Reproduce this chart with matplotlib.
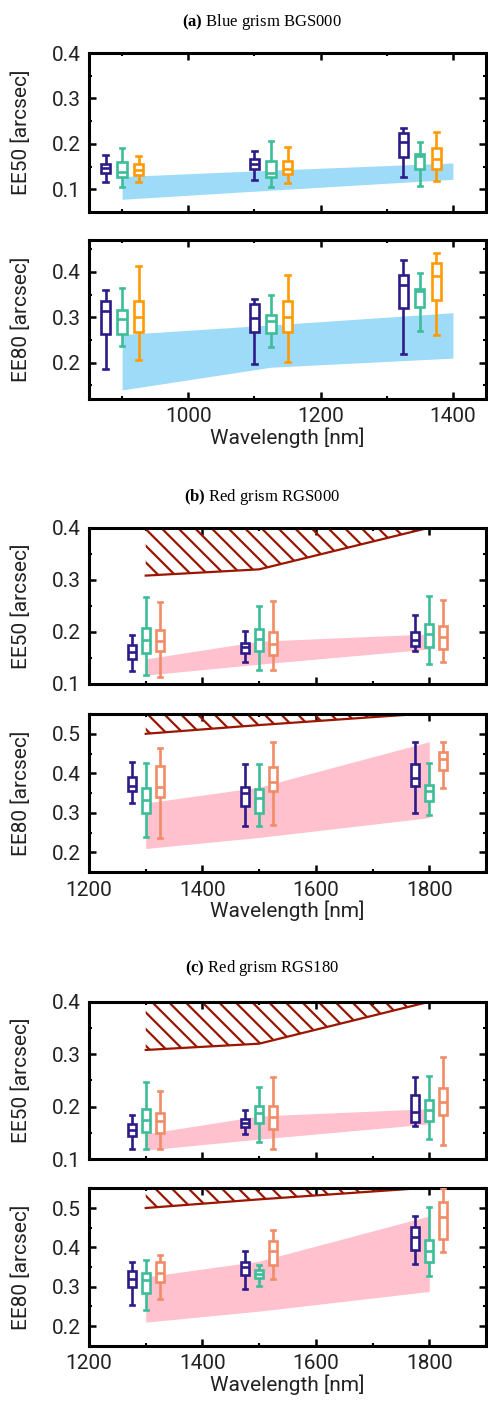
import matplotlib
matplotlib.use('Agg')
import matplotlib.pyplot as plt
from matplotlib.ticker import MultipleLocator

plt.rcParams['font.family'] = ['Roboto', 'DejaVu Sans']
plt.rcParams['mathtext.fontset'] = 'custom'
plt.rcParams['mathtext.rm'] = 'Liberation Serif'
plt.rcParams['mathtext.bf'] = 'Liberation Serif:bold'
plt.rcParams['hatch.linewidth'] = 1.6

PURPLE = '#2d1b88'
TEAL = '#3dbd98'
ORANGE = '#ff9a05'
SALMON = '#f08c66'
SKY = '#9ddbf9'
PINK = '#ffc1cd'
DARKRED = '#9a1600'
INK = '#222222'

# --- data: (whislo, q1, median, q3, whishi) per wavelength group ----------
# (a) Blue grism BGS000
A_POS = [[875, 1100, 1325], [900, 1125, 1350], [925, 1150, 1375]]
A50_PURPLE = [(0.116, 0.135, 0.147, 0.156, 0.176), (0.120, 0.144, 0.156, 0.167, 0.185), (0.126, 0.170, 0.204, 0.224, 0.236)]
A50_TEAL = [(0.105, 0.127, 0.137, 0.161, 0.190), (0.105, 0.126, 0.135, 0.163, 0.206), (0.107, 0.144, 0.174, 0.178, 0.205)]
A50_ORANGE = [(0.115, 0.132, 0.143, 0.156, 0.173), (0.113, 0.133, 0.144, 0.163, 0.193), (0.119, 0.144, 0.167, 0.191, 0.227)]
A80_PURPLE = [(0.187, 0.264, 0.313, 0.335, 0.359), (0.196, 0.268, 0.298, 0.330, 0.340), (0.220, 0.321, 0.372, 0.392, 0.427)]
A80_TEAL = [(0.237, 0.264, 0.296, 0.316, 0.364), (0.235, 0.266, 0.291, 0.305, 0.350), (0.270, 0.322, 0.357, 0.363, 0.398)]
A80_ORANGE = [(0.205, 0.268, 0.300, 0.335, 0.413), (0.201, 0.268, 0.300, 0.335, 0.394), (0.262, 0.337, 0.390, 0.419, 0.441)]
A_BAND_X = [900, 1125, 1400]
A50_BAND_LO = [0.078, 0.098, 0.122]
A50_BAND_HI = [0.128, 0.142, 0.158]
A80_BAND_LO = [0.140, 0.190, 0.210]
A80_BAND_HI = [0.262, 0.283, 0.310]

# (b) Red grism RGS000
B_POS = [[1275, 1475, 1775], [1300, 1500, 1800], [1325, 1525, 1825]]
B50_PURPLE = [(0.125, 0.147, 0.162, 0.174, 0.194), (0.142, 0.160, 0.171, 0.179, 0.202), (0.163, 0.173, 0.185, 0.200, 0.233)]
B50_TEAL = [(0.118, 0.160, 0.185, 0.208, 0.266), (0.127, 0.163, 0.187, 0.206, 0.249), (0.139, 0.171, 0.195, 0.215, 0.268)]
B50_SALMON = [(0.114, 0.163, 0.182, 0.204, 0.257), (0.127, 0.155, 0.176, 0.200, 0.260), (0.142, 0.168, 0.190, 0.212, 0.262)]
B80_PURPLE = [(0.324, 0.356, 0.368, 0.391, 0.429), (0.268, 0.317, 0.350, 0.365, 0.424), (0.300, 0.368, 0.388, 0.424, 0.480)]
B80_TEAL = [(0.240, 0.300, 0.332, 0.362, 0.425), (0.266, 0.300, 0.337, 0.360, 0.424), (0.294, 0.331, 0.356, 0.371, 0.426)]
B80_SALMON = [(0.237, 0.339, 0.365, 0.418, 0.465), (0.270, 0.356, 0.379, 0.416, 0.480), (0.362, 0.409, 0.435, 0.455, 0.480)]

# (c) Red grism RGS180
C50_PURPLE = [(0.120, 0.144, 0.156, 0.167, 0.184), (0.148, 0.162, 0.169, 0.176, 0.193), (0.163, 0.171, 0.189, 0.222, 0.257)]
C50_TEAL = [(0.120, 0.152, 0.174, 0.195, 0.247), (0.132, 0.168, 0.187, 0.202, 0.238), (0.139, 0.173, 0.193, 0.212, 0.258)]
C50_SALMON = [(0.120, 0.150, 0.173, 0.187, 0.229), (0.120, 0.157, 0.181, 0.201, 0.256), (0.127, 0.184, 0.208, 0.236, 0.294)]
C80_PURPLE = [(0.254, 0.299, 0.320, 0.339, 0.364), (0.295, 0.329, 0.350, 0.363, 0.391), (0.357, 0.394, 0.426, 0.452, 0.479)]
C80_TEAL = [(0.242, 0.285, 0.316, 0.336, 0.367), (0.303, 0.322, 0.333, 0.342, 0.354), (0.326, 0.363, 0.392, 0.420, 0.503)]
C80_SALMON = [(0.269, 0.312, 0.335, 0.363, 0.380), (0.320, 0.356, 0.392, 0.415, 0.443), (0.388, 0.422, 0.477, 0.515, 0.552)]

# bands and excluded (hatched) regions shared by the red grism panels
R_BAND_X = [1300, 1500, 1800]
R50_BAND_LO = [0.117, 0.138, 0.167]
R50_BAND_HI = [0.148, 0.182, 0.196]
R80_BAND_LO = [0.210, 0.238, 0.288]
R80_BAND_HI = [0.325, 0.365, 0.480]
R50_LIMIT = [0.308, 0.320, 0.400]
R80_LIMIT = [0.500, 0.522, 0.552]

# --- figure geometry (figure fractions) ----------------------------------
fig = plt.figure(figsize=(4.88, 14.03), dpi=100)
L, W = 0.1824, 0.8135
RECTS = {
    'a50': [L, 0.8489, W, 0.1133], 'a80': [L, 0.7156, W, 0.1133],
    'b50': [L, 0.5125, W, 0.1114], 'b80': [L, 0.3783, W, 0.1128],
    'c50': [L, 0.1739, W, 0.1121], 'c80': [L, 0.0408, W, 0.1122],
}


def boxes(ax, data, pos, color):
    stats = [dict(whislo=d[0], q1=d[1], med=d[2], q3=d[3], whishi=d[4]) for d in data]
    lw = 1.9
    ax.bxp(stats, positions=pos, widths=14, capwidths=7, patch_artist=True,
           showfliers=False, manage_ticks=False, zorder=3,
           boxprops=dict(facecolor='white', edgecolor=color, linewidth=lw),
           whiskerprops=dict(color=color, linewidth=lw, solid_capstyle='butt'),
           capprops=dict(color=color, linewidth=lw),
           medianprops=dict(color=color, linewidth=lw))


def style(ax, ylim, xlim, ylabel, xlabel=False):
    ax.set_ylim(*ylim)
    ax.set_xlim(*xlim)
    ax.xaxis.set_major_locator(MultipleLocator(200))
    ax.xaxis.set_minor_locator(MultipleLocator(100))
    ax.yaxis.set_major_locator(MultipleLocator(0.1))
    ax.yaxis.set_minor_locator(MultipleLocator(0.05))
    ax.tick_params(which='both', direction='in', top=True, right=True,
                   labelsize=15, labelcolor=INK)
    ax.tick_params(which='major', length=5, width=1.8, pad=6)
    ax.tick_params(which='minor', length=2.5, width=1.5)
    for sp in ax.spines.values():
        sp.set_linewidth(2.2)
    ax.set_ylabel(ylabel, fontsize=15, color=INK)
    ax.yaxis.set_label_coords(-0.145, 0.5)
    if xlabel:
        ax.set_xlabel('Wavelength [nm]', fontsize=15, labelpad=1, color=INK)
    else:
        ax.tick_params(labelbottom=False)


def limit(ax, x, lo):
    ax.fill_between(x, lo, 0.7, facecolor='none', edgecolor=DARKRED, hatch='\\\\',
                    linewidth=0, zorder=2)
    ax.plot(x, lo, color=DARKRED, lw=1.6, zorder=2)


# (a)
ax = fig.add_axes(RECTS['a50'])
ax.fill_between(A_BAND_X, A50_BAND_LO, A50_BAND_HI, color=SKY, lw=0, zorder=1)
for data, pos, c in zip([A50_PURPLE, A50_TEAL, A50_ORANGE], A_POS, [PURPLE, TEAL, ORANGE]):
    boxes(ax, data, pos, c)
style(ax, (0.05, 0.4), (850, 1450), 'EE50 [arcsec]')

ax = fig.add_axes(RECTS['a80'])
ax.fill_between(A_BAND_X, A80_BAND_LO, A80_BAND_HI, color=SKY, lw=0, zorder=1)
for data, pos, c in zip([A80_PURPLE, A80_TEAL, A80_ORANGE], A_POS, [PURPLE, TEAL, ORANGE]):
    boxes(ax, data, pos, c)
style(ax, (0.12, 0.47), (850, 1450), 'EE80 [arcsec]', xlabel=True)

# (b) and (c)
red_panels = [
    ('b', [B50_PURPLE, B50_TEAL, B50_SALMON], [B80_PURPLE, B80_TEAL, B80_SALMON]),
    ('c', [C50_PURPLE, C50_TEAL, C50_SALMON], [C80_PURPLE, C80_TEAL, C80_SALMON]),
]
for key, set50, set80 in red_panels:
    ax = fig.add_axes(RECTS[key + '50'])
    ax.fill_between(R_BAND_X, R50_BAND_LO, R50_BAND_HI, color=PINK, lw=0, zorder=1)
    limit(ax, R_BAND_X, R50_LIMIT)
    for data, pos, c in zip(set50, B_POS, [PURPLE, TEAL, SALMON]):
        boxes(ax, data, pos, c)
    style(ax, (0.1, 0.4), (1200, 1900), 'EE50 [arcsec]')

    ax = fig.add_axes(RECTS[key + '80'])
    ax.fill_between(R_BAND_X, R80_BAND_LO, R80_BAND_HI, color=PINK, lw=0, zorder=1)
    limit(ax, R_BAND_X, R80_LIMIT)
    for data, pos, c in zip(set80, B_POS, [PURPLE, TEAL, SALMON]):
        boxes(ax, data, pos, c)
    style(ax, (0.15, 0.55), (1200, 1900), 'EE80 [arcsec]', xlabel=True)

# panel titles
TITLES = [(0.9843, r'$\mathbf{(a)}$ Blue grism BGS000'),
          (0.6458, r'$\mathbf{(b)}$ Red grism RGS000'),
          (0.3100, r'$\mathbf{(c)}$ Red grism RGS180')]
for y, t in TITLES:
    fig.text(0.537, y, t, ha='center', va='center', fontsize=12,
             family='Liberation Serif', weight='normal')

fig.savefig('out.png', dpi=100)
